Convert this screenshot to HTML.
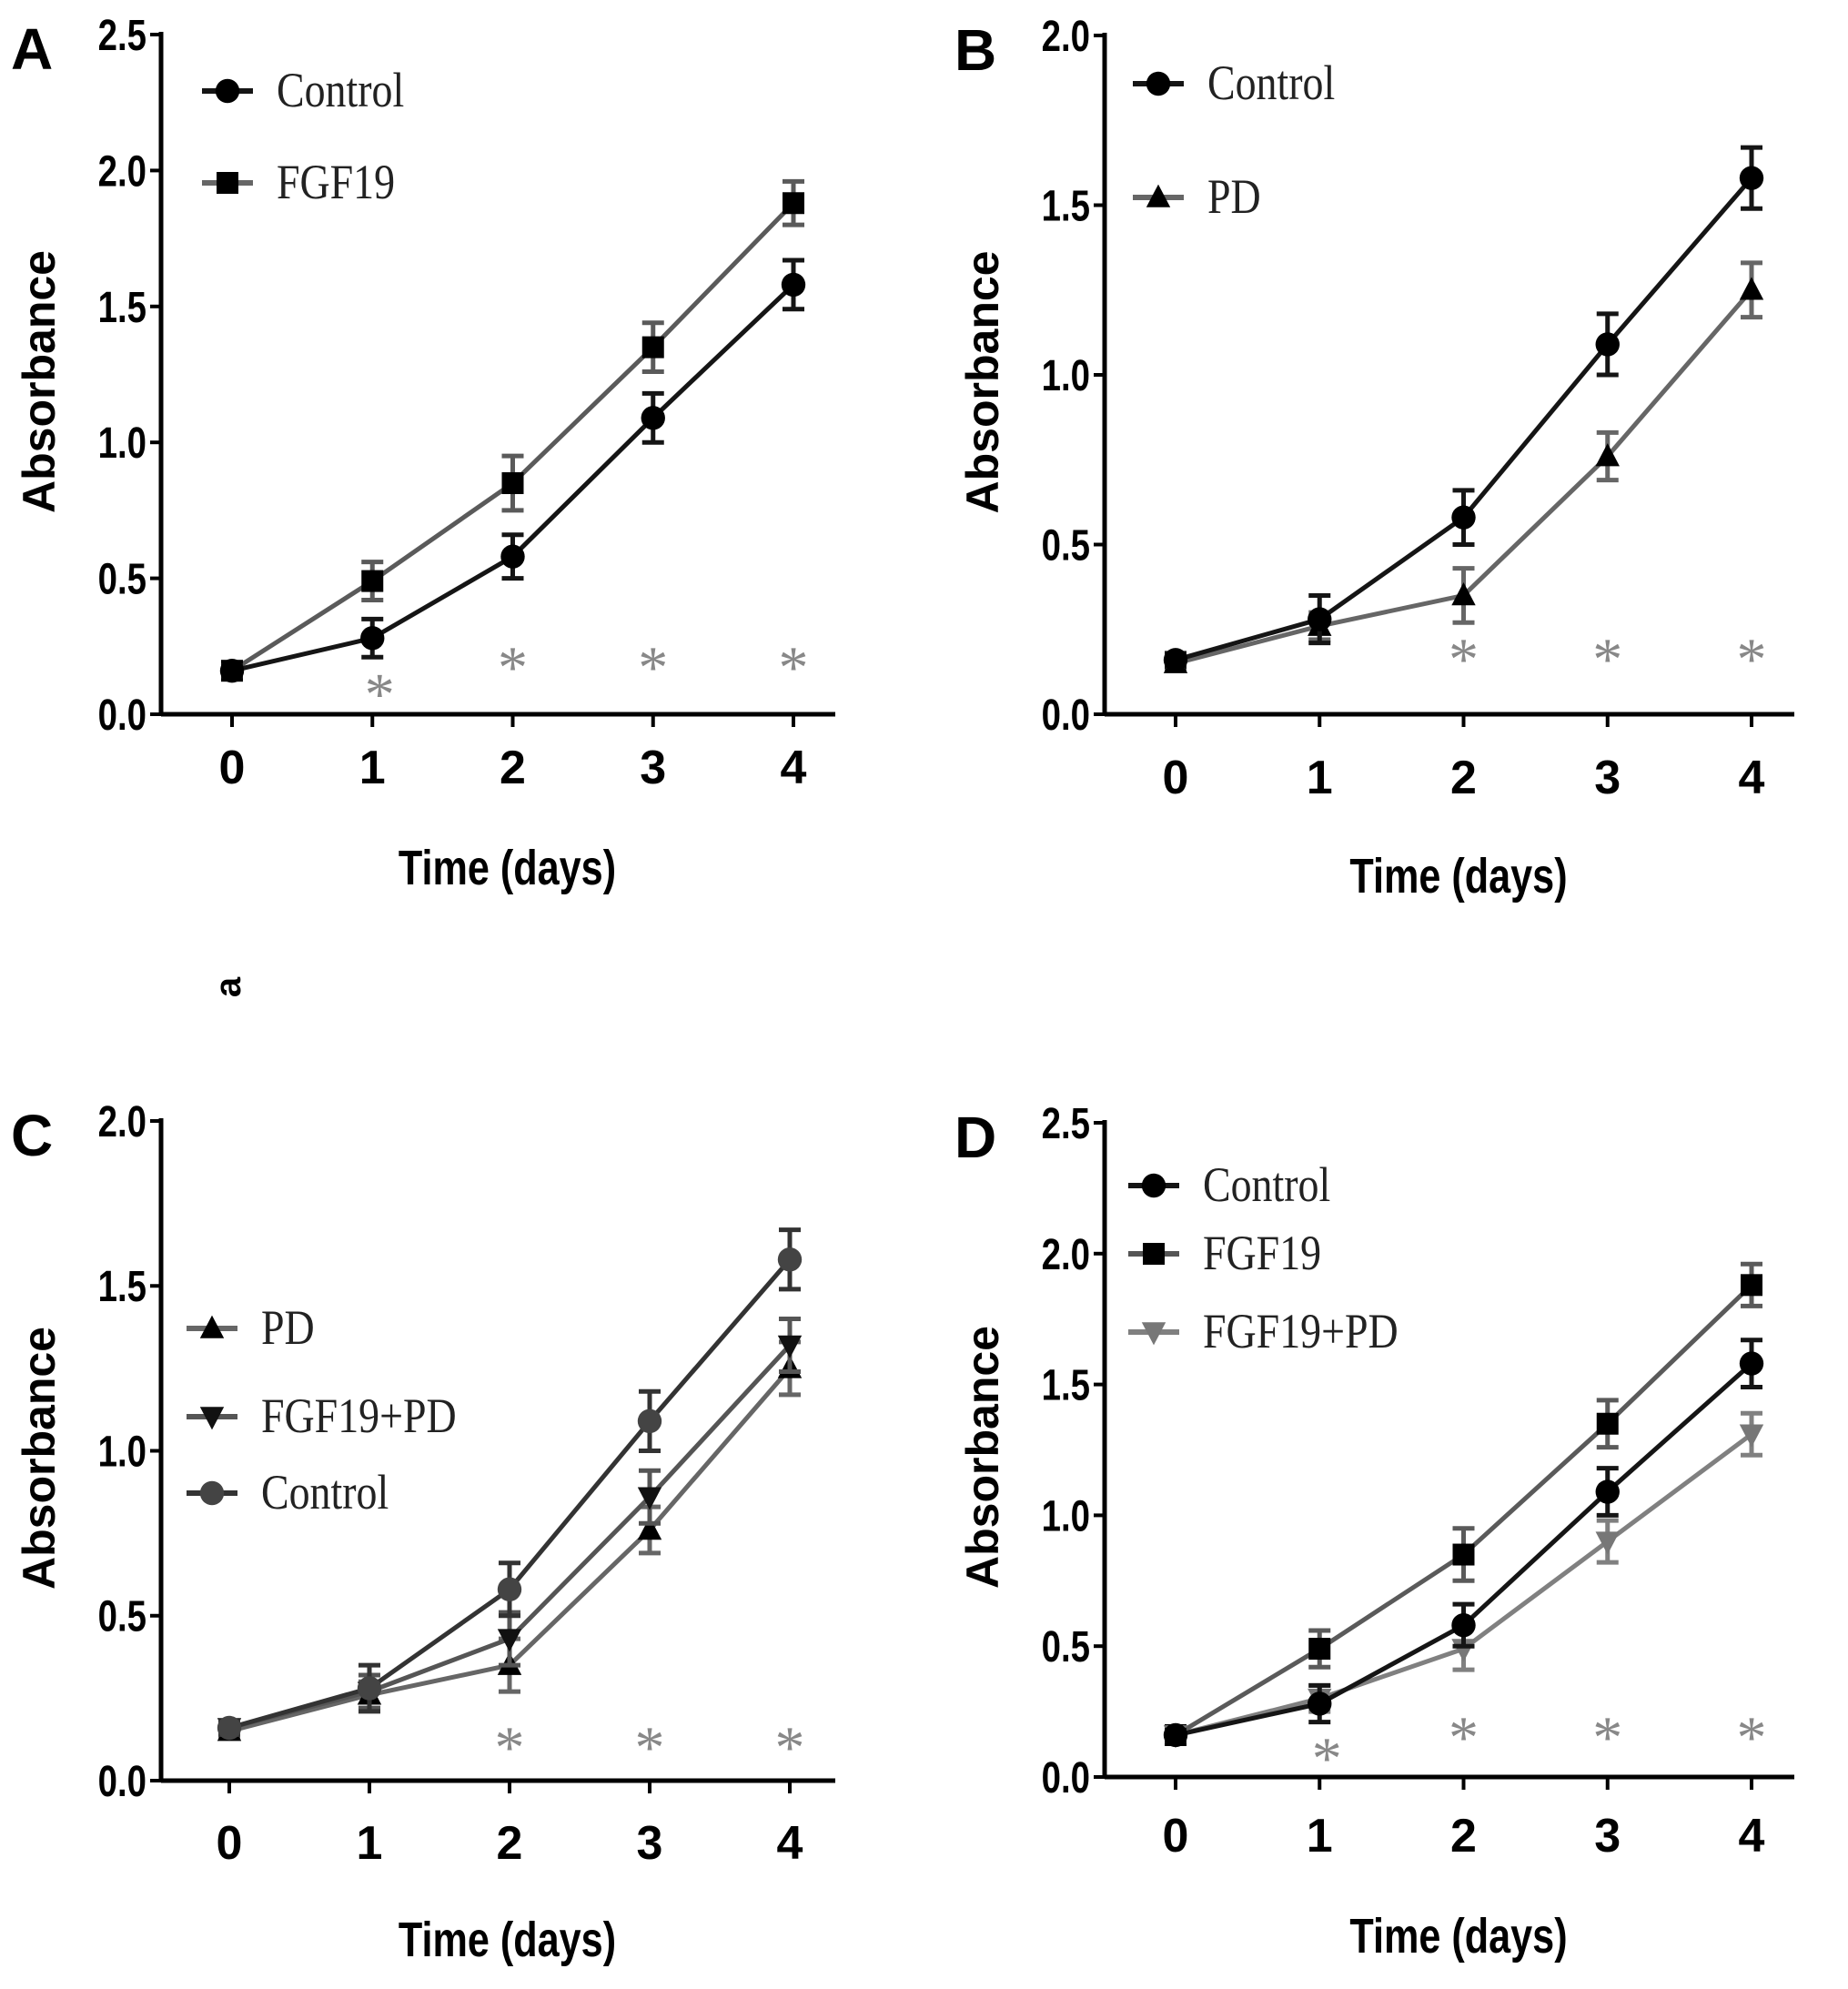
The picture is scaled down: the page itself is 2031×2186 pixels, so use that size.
<!DOCTYPE html>
<html><head><meta charset="utf-8"><style>
body{margin:0;background:#fff;}
svg{display:block;}
</style></head><body>
<svg id="fig" width="2031" height="2186" viewBox="0 0 2031 2186" xmlns="http://www.w3.org/2000/svg" font-family="Liberation Sans, sans-serif"></svg>
<script>
const days = [0,1,2,3,4];
const controlVals = [0.16,0.28,0.58,1.09,1.58];
const controlErr = [0.02,0.07,0.08,0.09,0.09];
const fgfVals = [0.16,0.49,0.85,1.35,1.88];
const fgfErr = [0.02,0.07,0.10,0.09,0.08];
const pdVals = [0.15,0.26,0.35,0.76,1.25];
const pdErr = [0.02,0.04,0.08,0.07,0.08];
const fpdValsC = [0.16,0.27,0.43,0.86,1.32];
const fpdValsD = [0.16,0.30,0.49,0.90,1.31];
const fpdErr = [0.02,0.05,0.08,0.08,0.08];
const yTicks25 = ["0.0","0.5","1.0","1.5","2.0","2.5"];
const yTicks20 = ["0.0","0.5","1.0","1.5","2.0"];

const NS = "http://www.w3.org/2000/svg";
const svg = document.getElementById('fig');
function el(tag, attrs, parent, txt){
  const e = document.createElementNS(NS, tag);
  for (const k in attrs) e.setAttribute(k, attrs[k]);
  if (txt !== undefined) e.textContent = txt;
  (parent||svg).appendChild(e);
  return e;
}
function marker(g, shape, x, y, color, s){
  let m;
  if (shape==='circle') m = el('circle',{cx:x,cy:y,r:s*0.55,fill:color},g);
  else if (shape==='square') m = el('rect',{x:x-s*0.5,y:y-s*0.5,width:s,height:s,fill:color},g);
  else if (shape==='tri') m = el('polygon',{points:`${x},${y-s*0.6} ${x-s*0.55},${y+s*0.45} ${x+s*0.55},${y+s*0.45}`,fill:color},g);
  else m = el('polygon',{points:`${x},${y+s*0.6} ${x-s*0.55},${y-s*0.45} ${x+s*0.55},${y-s*0.45}`,fill:color},g);
  return m;
}
const SANS = 'font-family:"Liberation Sans",sans-serif';
const SERIF = 'font-family:"Liberation Serif",serif';
function panel(p){
  const g = el('g',{});
  
  
  const ymax = p.yTicks.length-1;
  const ys = v => p.y0 - (p.y0-p.yTop)*v/(ymax*0.5);
  const xs = d => p.x0 + (p.x4-p.x0)*d/4;
  const lab = el('text',{x:p.ax-165,y:p.yTop+38,'font-size':64,'font-weight':'bold',style:SANS},g,p.id);
  
  
  const ya = el('line',{x1:p.ax,y1:p.yTop-3,x2:p.ax,y2:p.y0+2,stroke:'#000','stroke-width':5},g);
  
  
  const xa = el('line',{x1:p.ax,y1:p.y0,x2:p.right,y2:p.y0,stroke:'#000','stroke-width':5},g);
  
  
  p.yTicks.forEach((t,i)=>{
    const y = ys(i*0.5);
    el('line',{x1:p.ax-12,y1:y,x2:p.ax,y2:y,stroke:'#000','stroke-width':4},g);
    const tl = el('text',{x:p.ax-16,y:y+17,'font-size':48,'font-weight':'bold','text-anchor':'end',style:SANS,transform:`translate(${p.ax-16} 0) scale(0.8 1) translate(${-(p.ax-16)} 0)`},g,t);
    
    
  });
  days.forEach(d=>{
    const x = xs(d);
    el('line',{x1:x,y1:p.y0,x2:x,y2:p.y0+14,stroke:'#000','stroke-width':4},g);
    const tl = el('text',{x:x,y:p.tickY+18,'font-size':52,'font-weight':'bold','text-anchor':'middle',style:SANS},g,String(d));
    
    
  });
  const cx = (p.ax+p.right)/2+10;
  const xt = el('text',{x:cx,y:p.xlabY+18,'font-size':54,'font-weight':'bold','text-anchor':'middle',style:SANS,transform:`translate(${cx} 0) scale(0.8 1) translate(${-cx} 0)`},g,'Time (days)');
  
  
  const ycy = (p.y0+p.yTop)/2 + 8;
  const yt = el('text',{x:0,y:0,'font-size':50,'font-weight':'bold','text-anchor':'middle',style:SANS,transform:`translate(${p.ax-117} ${ycy}) rotate(-90)`},g,'Absorbance');
  
  
  p.series.forEach(s=>{
    const sg = el('g',{},g);
    
    
    const pts = s.vals.map((v,i)=>`${xs(days[i])},${ys(v)}`).join(' ');
    el('polyline',{points:pts,fill:'none',stroke:s.line,'stroke-width':5},sg);
    s.vals.forEach((v,i)=>{
      const x = xs(days[i]), e = s.err[i];
      const eb = el('path',{d:`M${x},${ys(v-e)}V${ys(v+e)}M${x-12},${ys(v-e)}H${x+12}M${x-12},${ys(v+e)}H${x+12}`,stroke:s.line,'stroke-width':5,fill:'none'},sg);
      
      
      const m = marker(sg,s.shape,x,ys(v),s.mark,24);
      
      
    });
  });
  p.stars.forEach(st=>{
    const t = el('text',{x:xs(st[0])+(st[0]===1?8:0),y:ys(st[1])+36,'font-size':66,fill:'#888','text-anchor':'middle',style:SERIF},g,'*');
    
    
  });
  p.legend.forEach(l=>{
    const lg = el('g',{},g);
    
    
    el('line',{x1:p.legX,y1:l.y,x2:p.legX+56,y2:l.y,stroke:l.line,'stroke-width':6},lg);
    marker(lg,l.shape,p.legX+28,l.y,l.mark,24);
    const tx = p.legX+82;
    el('text',{x:tx,y:l.y+17,'font-size':54,fill:'#222',style:SERIF,transform:`translate(${tx} 0) scale(0.85 1) translate(${-tx} 0)`},lg,l.name);
  });
}
const C = {name:'Control',vals:controlVals,err:controlErr,line:'#151515',mark:'#000',shape:'circle'};
const F = {name:'FGF19',vals:fgfVals,err:fgfErr,line:'#5a5a5a',mark:'#000',shape:'square'};
const P = {name:'PD',vals:pdVals,err:pdErr,line:'#666',mark:'#000',shape:'tri'};
const FPC = {name:'FGF19+PD',vals:fpdValsC,err:fpdErr,line:'#555',mark:'#111',shape:'tridown'};
const FPD = {name:'FGF19+PD',vals:fpdValsD,err:fpdErr,line:'#808080',mark:'#777',shape:'tridown'};
const CC = Object.assign({},C,{line:'#333',mark:'#444'});
panel({id:'A',ax:177,y0:785,yTop:38,x0:255,x4:872,right:918,tickY:843,xlabY:954,yTicks:yTicks25,
  series:[F,C],stars:[[1,0.12],[2,0.22],[3,0.22],[4,0.22]],legX:222,
  legend:[{name:'Control',y:100,line:'#151515',mark:'#000',shape:'circle'},{name:'FGF19',y:201,line:'#666',mark:'#000',shape:'square'}]});
panel({id:'B',ax:1214,y0:785,yTop:39,x0:1292,x4:1925,right:1972,tickY:854,xlabY:963,yTicks:yTicks20,
  series:[P,C],stars:[[2,0.2],[3,0.2],[4,0.2]],legX:1245,
  legend:[{name:'Control',y:92,line:'#151515',mark:'#000',shape:'circle'},{name:'PD',y:217,line:'#666',mark:'#000',shape:'tri'}]});
panel({id:'C',ax:177,y0:1957,yTop:1232,x0:252,x4:868,right:918,tickY:2025,xlabY:2132,yTicks:yTicks20,
  series:[P,FPC,CC],stars:[[2,0.14],[3,0.14],[4,0.14]],legX:205,
  legend:[{name:'PD',y:1460,line:'#666',mark:'#000',shape:'tri'},{name:'FGF19+PD',y:1557,line:'#555',mark:'#111',shape:'tridown'},{name:'Control',y:1641,line:'#333',mark:'#444',shape:'circle'}]});
panel({id:'D',ax:1214,y0:1953,yTop:1234,x0:1292,x4:1925,right:1972,tickY:2017,xlabY:2128,yTicks:yTicks25,
  series:[F,FPD,C],stars:[[1,0.12],[2,0.2],[3,0.2],[4,0.2]],legX:1240,
  legend:[{name:'Control',y:1303,line:'#151515',mark:'#000',shape:'circle'},{name:'FGF19',y:1378,line:'#555',mark:'#000',shape:'square'},{name:'FGF19+PD',y:1464,line:'#808080',mark:'#777',shape:'tridown'}]});
const a = el('text',{x:0,y:0,'font-size':40,'font-weight':'bold','text-anchor':'middle',style:SANS,transform:'translate(264 1085) rotate(-90)'},svg,'a');


</script>
</body></html>
